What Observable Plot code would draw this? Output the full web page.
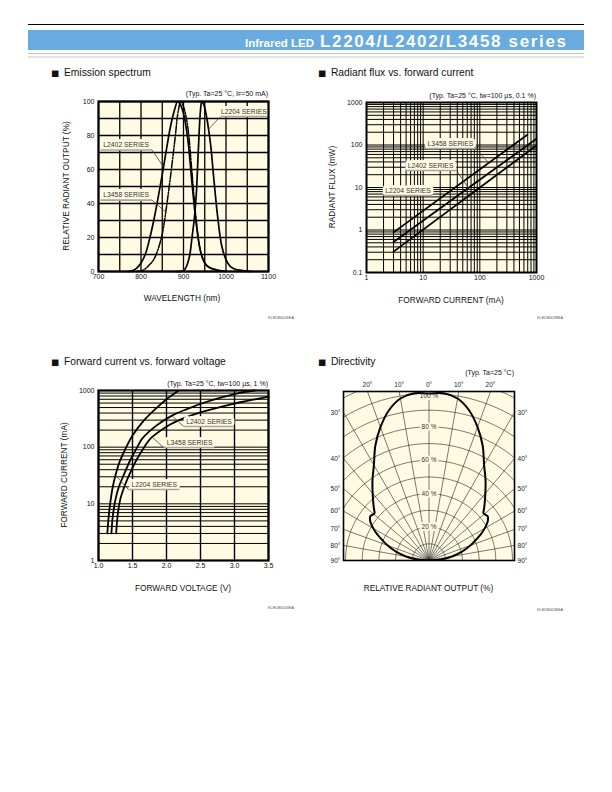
<!DOCTYPE html>
<html><head><meta charset="utf-8">
<script src="https://cdn.jsdelivr.net/npm/d3@7"></script>
<script src="https://cdn.jsdelivr.net/npm/@observablehq/plot@0.6"></script>
<style>
body{margin:0;background:#fff;}
#page{position:relative;width:612px;height:792px;overflow:hidden;font-family:"Liberation Sans",Arial,sans-serif;background:#fff;}
#overlay{position:absolute;left:0;top:0;}
</style></head>
<body><div id="page"><svg id="overlay" width="612" height="792"></svg></div>
<script>
// ================= DATA =================
// --- Emission spectrum (wavelength nm, relative output %)
const specXTicks = [700, 800, 900, 1000, 1100];
const specYTicks = [0, 20, 40, 60, 80, 100];
const specXGrid = [700, 750, 800, 850, 900, 950, 1000, 1050, 1100];
const specYGrid = [0, 10, 20, 30, 40, 50, 60, 70, 80, 90, 100];
const specL2402 = [[770,0],[780,0.5],[790,2],[800,5],[810,10],[820,19],[830,30],[840,43],[850,57],[860,72],[870,86],[880,96],[886,100],[893,98],[900,93],[910,78],[920,52],[930,28],[940,12],[950,5],[960,2.5],[980,0.8],[1000,0]];
const specL3458 = [[790,0],[800,0.3],[810,1.5],[820,4],[830,7],[840,13],[850,22],[860,38],[870,57],[880,78],[888,95],[894,100],[900,97],[910,85],[920,58],[930,30],[940,12],[950,5],[960,2.5],[980,0.8],[1000,0]];
const specL2204 = [[880,0],[900,0.5],[905,2],[910,5],[915,10],[920,20],[925,30],[930,45],[935,72],[940,95],[943,100],[948,98],[955,90],[960,82],[965,72],[970,58],[975,45],[980,33],[990,15],[1000,7],[1010,3],[1020,1.5],[1040,0.5],[1060,0]];
const specNotes = [
  {text:"L2204 SERIES", tx:1042, ty:94, ux1:987, ux2:1097, uy:91.2, from:"left", px:960, py:84},
  {text:"L2402 SERIES", tx:765, ty:74.5, ux1:705, ux2:826, uy:71.5, from:"right", px:853, py:61.5},
  {text:"L3458 SERIES", tx:765, ty:45, ux1:705, ux2:826, uy:42, from:"right", px:858, py:35}
];

// --- Radiant flux vs forward current (mA, mW)
const fluxXTicks = [1, 10, 100, 1000];
const fluxYTicks = [0.1, 1, 10, 100, 1000];
const fluxXDecades = [1, 10, 100];
const fluxYDecades = [0.1, 1, 10, 100];
const fluxL3458 = [[3, 0.88], [690, 175]];
const fluxL2402 = [[3, 0.52], [1000, 140]];
const fluxL2204 = [[3, 0.31], [1000, 97]];
const fluxNotes = [
  {text:"L3458 SERIES", tx:30.3, ty:106.7, ux1:11.5, ux2:84, uy:82.8, from:"right", px:144, py:38},
  {text:"L2402 SERIES", tx:13.5, ty:33, ux1:4.9, ux2:38.7, uy:25.1, from:"right", px:63, py:9.7},
  {text:"L2204 SERIES", tx:5.4, ty:8.5, ux1:2.0, ux2:14.6, uy:6.5, from:null}
];

// --- Forward current vs forward voltage (V, mA)
const ivXTicks = [1.0, 1.5, 2.0, 2.5, 3.0, 3.5];
const ivYTicks = [1, 10, 100, 1000];
const ivYDecades = [1, 10, 100];
const ivL2204 = [[1.13,3],[1.15,6],[1.18,12],[1.21,20],[1.25,32],[1.31,55],[1.39,90],[1.5,160],[1.65,280],[1.84,475],[2.0,700],[2.18,1000]];
const ivL2402 = [[1.19,3],[1.21,6],[1.25,12],[1.3,20],[1.37,32],[1.47,60],[1.56,95],[1.64,140],[1.85,240],[2.08,360],[2.3,470],[2.57,620],[2.8,750],[3.06,900],[3.3,1000]];
const ivL3458 = [[1.26,3],[1.28,6],[1.32,12],[1.38,20],[1.45,32],[1.56,60],[1.66,95],[1.76,140],[2.0,230],[2.23,315],[2.5,410],[2.92,560],[3.2,660],[3.5,780]];
const ivNotes = [
  {text:"L2402 SERIES", tx:2.625, ty:284, ux1:2.25, ux2:2.985, uy:232, from:"left", px:2.08, py:360},
  {text:"L3458 SERIES", tx:2.34, ty:121, ux1:1.956, ux2:2.706, uy:98.6, from:"left", px:1.79, py:150},
  {text:"L2204 SERIES", tx:1.82, ty:21.9, ux1:1.44, ux2:2.19, uy:17.9, from:"left", px:1.25, py:32}
];

// --- Directivity (angle deg, relative output %)
const dirAngles = [0, 5, 10, 15, 20, 25, 30, 35, 40, 45, 47, 49, 51, 53, 56, 60, 63, 66, 70, 75, 80, 85, 90];
const dirValues = [100, 100.5, 98.5, 93, 85, 76, 66, 59, 52.5, 47, 45, 43.2, 43.5, 44, 42.5, 38.5, 35, 31, 26.5, 20.5, 14, 7, 0];
const dirRings = [10, 20, 30, 40, 50, 60, 70, 80, 90, 100, 110];
const dirRingLabels = [20, 40, 60, 80];
const dirTopRingLabel = [100];
const dirSpokes = [-90,-80,-70,-60,-50,-40,-30,-20,-10,0,10,20,30,40,50,60,70,80,90];
const dirTopLabels = [-20, -10, 0, 10, 20];
const dirSideLabels = [30, 40, 50, 60, 70, 80, 90];

// ================= STYLE =================
const FONT = "'Liberation Sans', Arial, Helvetica, sans-serif";
const CREAM = "#fffbe3";
const INK = "#111";
const page = document.getElementById("page");
function place(svg, left, top) {
  svg.style.position = "absolute";
  svg.style.left = left + "px";
  svg.style.top = top + "px";
  svg.style.maxWidth = "none";
  page.appendChild(svg);
}
const rows = (pairs) => pairs.map(([x, y]) => ({x, y}));
const baseStyle = {background: "transparent", fontFamily: FONT, fontSize: "7px", color: INK, overflow: "visible"};
const minorGrid = (decades) => decades.flatMap(d => [1,2,3,4,5,6,7,8,9].map(k => +(k * d).toPrecision(3))).concat([decades[decades.length-1] * 10]);

function noteMarks(notes) {
  const leaders = notes.filter(n => n.from).map(n => ({x1: n.from === "left" ? n.ux1 : n.ux2, y1: n.uy, x2: n.px, y2: n.py}));
  return [
    Plot.link(leaders, {x1: "x1", y1: "y1", x2: "x2", y2: "y2", stroke: "#444", strokeWidth: 0.8}),
    Plot.text(notes, {x: "tx", y: "ty", text: "text", fontSize: 6.8, fill: CREAM, stroke: CREAM, strokeWidth: 6, strokeLinejoin: "round"}),
    Plot.text(notes, {x: "tx", y: "ty", text: "text", fontSize: 6.8, fill: "#333"}),
    Plot.link(notes, {x1: "ux1", x2: "ux2", y1: "uy", y2: "uy", stroke: "#a9a79c", strokeWidth: 1.6})
  ];
}

// ================= CHART 1: Emission spectrum =================
const c1 = Plot.plot({
  width: 222, height: 196, marginLeft: 38, marginTop: 10, marginRight: 14, marginBottom: 16,
  style: baseStyle,
  x: {domain: [700, 1100], ticks: specXTicks, tickSize: 0, tickPadding: 3, tickFormat: d => String(d), label: null},
  y: {domain: [0, 100], ticks: specYTicks, tickSize: 0, tickPadding: 4, tickFormat: d => String(d), label: null},
  marks: [
    Plot.frame({fill: CREAM, stroke: null}),
    Plot.ruleX(specXGrid, {stroke: "#000", strokeWidth: 1.3}),
    Plot.ruleY(specYGrid, {stroke: "#000", strokeWidth: 1.3}),
    Plot.line(rows(specL2402), {x: "x", y: "y", curve: "catmull-rom", stroke: "#000", strokeWidth: 1.7}),
    Plot.line(rows(specL3458), {x: "x", y: "y", curve: "catmull-rom", stroke: "#000", strokeWidth: 1.5, strokeDasharray: "7,1.6,1.4,1.6"}),
    Plot.line(rows(specL2204), {x: "x", y: "y", curve: "catmull-rom", stroke: "#000", strokeWidth: 1.7}),
    ...noteMarks(specNotes),
    Plot.frame({stroke: "#000", strokeWidth: 2.2})
  ]
});
place(c1, 60, 91);

// ================= CHART 2: Radiant flux =================
const c2 = Plot.plot({
  width: 222, height: 196, marginLeft: 38, marginTop: 10, marginRight: 14, marginBottom: 16,
  style: baseStyle,
  x: {type: "log", domain: [1, 1000], ticks: fluxXTicks, tickSize: 0, tickPadding: 3, tickFormat: d => String(d), label: null},
  y: {type: "log", domain: [0.1, 1000], ticks: fluxYTicks, tickSize: 0, tickPadding: 4, tickFormat: d => String(d), label: null},
  marks: [
    Plot.frame({fill: CREAM, stroke: null}),
    Plot.ruleX(minorGrid(fluxXDecades), {stroke: "#000", strokeWidth: 1}),
    Plot.ruleY(minorGrid(fluxYDecades), {stroke: "#000", strokeWidth: 1}),
    Plot.line(rows(fluxL3458), {x: "x", y: "y", stroke: "#000", strokeWidth: 1.8}),
    Plot.line(rows(fluxL2402), {x: "x", y: "y", stroke: "#000", strokeWidth: 1.8}),
    Plot.line(rows(fluxL2204), {x: "x", y: "y", stroke: "#000", strokeWidth: 1.8}),
    ...noteMarks(fluxNotes),
    Plot.frame({stroke: "#000", strokeWidth: 2})
  ]
});
place(c2, 328, 92);

// ================= CHART 3: Forward current vs voltage =================
const c3 = Plot.plot({
  width: 222, height: 196, marginLeft: 38, marginTop: 10, marginRight: 14, marginBottom: 16,
  style: baseStyle,
  x: {domain: [1, 3.5], ticks: ivXTicks, tickSize: 0, tickPadding: 3, tickFormat: d => d.toFixed(1), label: null},
  y: {type: "log", domain: [1, 1000], ticks: ivYTicks, tickSize: 0, tickPadding: 4, tickFormat: d => String(d), label: null},
  marks: [
    Plot.frame({fill: CREAM, stroke: null}),
    Plot.ruleX(ivXTicks, {stroke: "#000", strokeWidth: 1.4}),
    Plot.ruleY(minorGrid(ivYDecades), {stroke: "#000", strokeWidth: 1}),
    Plot.line(rows(ivL2204), {x: "x", y: "y", curve: "catmull-rom", stroke: "#000", strokeWidth: 1.8}),
    Plot.line(rows(ivL2402), {x: "x", y: "y", curve: "catmull-rom", stroke: "#000", strokeWidth: 1.8}),
    Plot.line(rows(ivL3458), {x: "x", y: "y", curve: "catmull-rom", stroke: "#000", strokeWidth: 1.8}),
    ...noteMarks(ivNotes),
    Plot.frame({stroke: "#000", strokeWidth: 2.2})
  ]
});
place(c3, 60, 380);

// ================= CHART 4: Directivity =================
const K = 1.67; // px per %
const XM = 85.5 / K, YM = 169 / K;
const rad = d => d * Math.PI / 180;
const ringRows = dirRings.flatMap(r => d3.range(-90, 90.5, 1.5).map(a => ({r, x: r * Math.sin(rad(a)), y: r * Math.cos(rad(a))})));
const spokeRows = dirSpokes.map(a => ({x2: 200 * Math.sin(rad(a)), y2: 200 * Math.cos(rad(a))}));
const curveRows = dirAngles.slice().reverse().map((a, i) => ({a: -a, r: dirValues[dirAngles.length - 1 - i]}))
  .concat(dirAngles.slice(1).map((a, i) => ({a, r: dirValues[i + 1]})))
  .map(d => ({x: d.r * Math.sin(rad(d.a)), y: d.r * Math.cos(rad(d.a))}));
const topLab = dirTopLabels.map(a => ({x: YM * Math.tan(rad(a)), y: YM, t: Math.abs(a) + "°"}));
const leftLab = dirSideLabels.map(a => ({x: -XM, y: XM / Math.tan(rad(a)), t: a + "°"}));
const rightLab = dirSideLabels.map(a => ({x: XM, y: XM / Math.tan(rad(a)), t: a + "°"}));
const ringLab = dirRingLabels.map(r => ({x: 0, y: r, t: r + " %"}));
const ringLabTop = dirTopRingLabel.map(r => ({x: 0, y: r, t: r + " %"}));
const ringTextOpts = {x: "x", y: "y", text: "t", fontSize: 6.5, fill: "#333"};

const c4 = Plot.plot({
  width: 231, height: 197, marginLeft: 30, marginTop: 20, marginRight: 30, marginBottom: 8,
  style: baseStyle,
  x: {domain: [-XM, XM], axis: null},
  y: {domain: [0, YM], axis: null},
  marks: [
    Plot.frame({fill: CREAM, stroke: null}),
    Plot.line(ringRows, {x: "x", y: "y", z: "r", stroke: "#222", strokeWidth: 0.6, clip: true}),
    Plot.link(spokeRows, {x1: 0, y1: 0, x2: "x2", y2: "y2", stroke: "#222", strokeWidth: 0.6, clip: true}),
    Plot.text(ringLab, {...ringTextOpts, fill: CREAM, stroke: CREAM, strokeWidth: 4}),
    Plot.text(ringLabTop, {...ringTextOpts, dy: 2.5, fill: CREAM, stroke: CREAM, strokeWidth: 4}),
    Plot.line(curveRows, {x: "x", y: "y", curve: "catmull-rom", stroke: "#000", strokeWidth: 2, clip: true}),
    Plot.text(ringLab, ringTextOpts),
    Plot.text(ringLabTop, {...ringTextOpts, dy: 2.5}),
    Plot.frame({stroke: "#000", strokeWidth: 1.6}),
    Plot.text(topLab, {x: "x", y: "y", text: "t", dy: -7, fontSize: 6.5, fill: "#222"}),
    Plot.text(leftLab, {x: "x", y: "y", text: "t", dx: -8, fontSize: 6.5, fill: "#222"}),
    Plot.text(rightLab, {x: "x", y: "y", text: "t", dx: 8, fontSize: 6.5, fill: "#222"})
  ]
});
place(c4, 313, 371);

// ================= PAGE TEXT (header, titles, captions, axis titles) =================
const ov = d3.select("#overlay");
ov.append("line").attr("x1", 28).attr("x2", 584).attr("y1", 24.5).attr("y2", 24.5).attr("stroke", "#000").attr("stroke-width", 1.2);
ov.append("rect").attr("x", 28).attr("y", 30).attr("width", 556).attr("height", 20).attr("fill", "#69aadf");
ov.append("line").attr("x1", 28).attr("x2", 584).attr("y1", 53.5).attr("y2", 53.5).attr("stroke", "#c4c4c4").attr("stroke-width", 1);
ov.append("line").attr("x1", 28).attr("x2", 584).attr("y1", 57).attr("y2", 57).attr("stroke", "#c4c4c4").attr("stroke-width", 1);
ov.append("text").attr("x", 245).attr("y", 46.5).attr("fill", "#fff").attr("font-family", FONT).attr("font-weight", "bold")
  .attr("font-size", 11.5).attr("textLength", 69).attr("lengthAdjust", "spacingAndGlyphs").text("Infrared LED");
ov.append("text").attr("x", 320).attr("y", 47).attr("fill", "#fff").attr("font-family", FONT).attr("font-weight", "bold")
  .attr("font-size", 17).attr("textLength", 246).attr("lengthAdjust", "spacing").text("L2204/L2402/L3458 series");

function txt(x, y, s, size, anchor = "start", rotate = false, fill = "#111") {
  const t = ov.append("text").attr("font-family", FONT).attr("font-size", size).attr("fill", fill).attr("text-anchor", anchor);
  if (rotate) t.attr("transform", `translate(${x},${y}) rotate(-90)`);
  else t.attr("x", x).attr("y", y);
  t.text(s);
  return t;
}
function title(x, y, s) {
  const t = ov.append("text").attr("x", x).attr("y", y).attr("font-family", FONT).attr("font-size", 10.3).attr("fill", "#111");
  t.append("tspan").attr("font-family", "'DejaVu Sans', sans-serif").attr("font-size", 8.5).text("■");
  t.append("tspan").attr("dx", 2).text(" " + s);
}
title(51, 75.5, "Emission spectrum");
title(318, 75.5, "Radiant flux vs. forward current");
title(51, 364.5, "Forward current vs. forward voltage");
title(318, 364.5, "Directivity");

// captions
const cap1 = txt(268, 96, "", 7, "end");
cap1.append("tspan").text("(Typ. Ta=25 °C, I");
cap1.append("tspan").attr("font-size", 5.5).text("F");
cap1.append("tspan").text("=50 mA)");
txt(536, 97.5, "(Typ. Ta=25 °C, tw=100 µs, 0.1 %)", 7, "end");
txt(268, 385.5, "(Typ. Ta=25 °C, tw=100 µs, 1 %)", 7, "end");
txt(514, 374.5, "(Typ. Ta=25 °C)", 7, "end");

// axis titles
txt(182, 300.5, "WAVELENGTH (nm)", 8.3, "middle");
txt(69, 186, "RELATIVE RADIANT OUTPUT (%)", 8.3, "middle", true);
txt(451, 303, "FORWARD CURRENT (mA)", 8.3, "middle");
txt(335, 187, "RADIANT FLUX (mW)", 8.3, "middle", true);
txt(183, 591, "FORWARD VOLTAGE (V)", 8.3, "middle");
txt(67, 475, "FORWARD CURRENT (mA)", 8.3, "middle", true);
txt(428.5, 591, "RELATIVE RADIANT OUTPUT (%)", 8.3, "middle");

// figure codes
txt(294, 318.5, "KLEDB0026EA", 3.8, "end", false, "#555");
txt(563, 318.5, "KLEDB0038EA", 3.8, "end", false, "#555");
txt(294, 608.5, "KLEDB0034EA", 3.8, "end", false, "#555");
txt(563, 610.5, "KLEDB0036EA", 3.8, "end", false, "#555");
</script>
</body></html>
